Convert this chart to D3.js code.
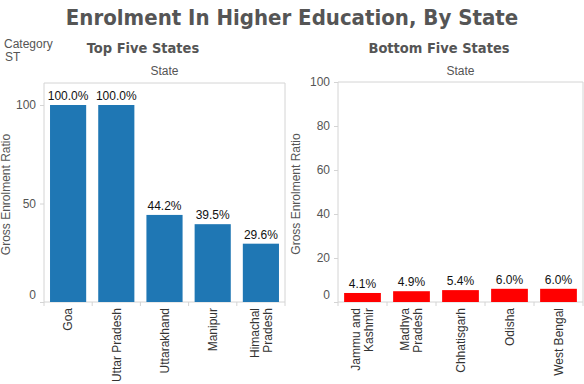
<!DOCTYPE html>
<meta charset="utf-8">
<style>
  body { margin: 0; background: #fff; }
  text { font-family: "Liberation Sans", Arial, sans-serif; }
</style>
<svg width="584" height="384"></svg>
<script src="https://d3js.org/d3.v7.min.js"></script>
<script>

// data
var topStates = ["Goa", "Uttar Pradesh", "Uttarakhand", "Manipur", "Himachal\nPradesh"];
var topValues = [100.0, 100.0, 44.2, 39.5, 29.6];
var bottomStates = ["Jammu and\nKashmir", "Madhya\nPradesh", "Chhatisgarh", "Odisha", "West Bengal"];
var bottomValues = [4.1, 4.9, 5.4, 6.0, 6.0];
var topTicks = [0, 50, 100];
var bottomTicks = [0, 20, 40, 60, 80, 100];

var svg = d3.select("svg");
var grey = "#555", frame = "#d4d4d4";

svg.append("text")
  .attr("x", 292).attr("y", 25)
  .attr("text-anchor", "middle")
  .style("font-family", "'DejaVu Sans Condensed', 'DejaVu Sans', sans-serif")
  .style("font-weight", "bold").style("font-size", "22px")
  .attr("fill", grey)
  .text("Enrolment In Higher Education, By State");

svg.append("text").attr("x", 4).attr("y", 48)
  .attr("fill", grey).style("font-size", "12px").text("Category");
svg.append("text").attr("x", 5).attr("y", 61)
  .attr("fill", grey).style("font-size", "12px").text("ST");

// one panel
function panel(opt) {
  var x = d3.scaleBand().domain(opt.states).range([opt.x0, opt.x1]).paddingInner(0.25).paddingOuter(0.125);
  var y = d3.scaleLinear().domain([0, 100]).range([302, opt.y100]);

  var g = svg.append("g");

  g.append("text").attr("x", opt.titleX).attr("y", 53)
    .attr("text-anchor", "middle")
    .style("font-family", "'DejaVu Sans Condensed', 'DejaVu Sans', sans-serif")
    .style("font-weight", "bold").style("font-size", "14.5px")
    .attr("fill", grey).text(opt.title);

  g.append("text").attr("x", (opt.x0 + opt.x1) / 2).attr("y", 75)
    .attr("text-anchor", "middle").style("font-size", "12px")
    .attr("fill", grey).text("State");

  // frame
  g.append("path")
    .attr("d", "M" + opt.x0 + ",302V" + opt.top + "H" + opt.x1 + "V302")
    .attr("fill", "none").attr("stroke", frame);

  // y axis
  var ya = g.append("g").attr("transform", "translate(" + opt.x0 + ",0)")
    .call(d3.axisLeft(y).tickValues(opt.ticks).tickSize(4).tickPadding(4));
  ya.select(".domain").remove();
  ya.selectAll("line").attr("stroke", frame);
  ya.selectAll("text").attr("fill", grey).style("font-size", "12px")
    .attr("dy", function(d) { return d === 0 ? "-0.3em" : "0.32em"; });

  g.append("text")
    .attr("transform", "translate(" + opt.yTitleX + "," + ((302 + opt.top) / 2 + 2) + ") rotate(-90)")
    .attr("text-anchor", "middle").style("font-size", "12px")
    .attr("fill", grey).text("Gross Enrolment Ratio");

  // bottom axis line and band ticks
  g.append("line").attr("x1", opt.x0).attr("x2", opt.x1).attr("y1", 302).attr("y2", 302)
    .attr("stroke", frame);
  var step = x.step();
  g.selectAll(".bt").data(d3.range(opt.states.length + 1)).enter().append("line")
    .attr("x1", function(i) { return opt.x0 + i * step; })
    .attr("x2", function(i) { return opt.x0 + i * step; })
    .attr("y1", 302).attr("y2", 306).attr("stroke", frame);

  // bars
  g.selectAll(".bar").data(opt.values).enter().append("rect")
    .attr("x", function(d, i) { return x(opt.states[i]); })
    .attr("y", function(d) { return y(d); })
    .attr("width", x.bandwidth())
    .attr("height", function(d) { return 302 - y(d); })
    .attr("fill", opt.color);

  g.selectAll(".lbl").data(opt.values).enter().append("text")
    .attr("x", function(d, i) { return x(opt.states[i]) + x.bandwidth() / 2; })
    .attr("y", function(d) { return y(d) - 5; })
    .attr("text-anchor", "middle").style("font-size", "12px").attr("fill", "#111")
    .text(function(d) { return d.toFixed(1) + "%"; });

  // category labels
  opt.states.forEach(function(s) {
    var lines = s.split("\n");
    var cx = x(s) + x.bandwidth() / 2;
    var t = g.append("text")
      .attr("transform", "translate(" + cx + ",308) rotate(-90)")
      .attr("text-anchor", "end").style("font-size", "12px").attr("fill", "#333");
    lines.forEach(function(l, k) {
      t.append("tspan").attr("x", 0)
        .attr("dy", k === 0 ? (0.35 - (lines.length - 1) * 0.55) + "em" : "1.1em")
        .text(l);
    });
  });
}

panel({ states: topStates, values: topValues, ticks: topTicks, x0: 44, x1: 285, top: 83, y100: 105,
        color: "#1f77b4", title: "Top Five States", titleX: 143, yTitleX: 10 });
panel({ states: bottomStates, values: bottomValues, ticks: bottomTicks, x0: 338, x1: 583, top: 82, y100: 82,
        color: "#ff0000", title: "Bottom Five States", titleX: 439, yTitleX: 300 });

</script>
